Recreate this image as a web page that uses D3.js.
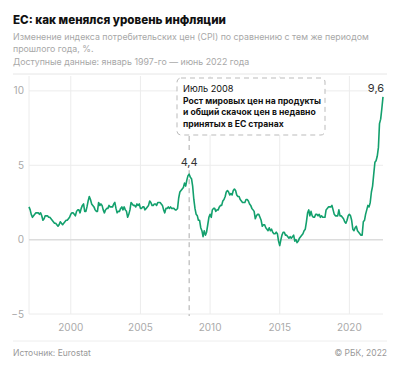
<!DOCTYPE html>
<html>
<head>
<meta charset="utf-8">
<script src="https://cdn.jsdelivr.net/npm/d3@7"></script>
<style>
  body { margin: 0; background: #fff; }
  svg text { font-family: Inter, "Noto Sans", sans-serif; }
</style>
</head>
<body>
<div id="chart"></div>
<script>
// monthly HICP, % y/y, Jan 1997 .. Jun 2022
var startYear = 1997;
var cpi = [
  2.2,2.0,1.7,1.5,1.6,1.7,1.8,1.8,1.8,1.7,1.8,1.6,   // 1997
  1.3,1.4,1.6,1.6,1.6,1.5,1.5,1.4,1.3,1.2,1.1,1.1,   // 1998
  1.0,0.9,1.0,1.2,1.1,1.0,1.1,1.2,1.3,1.3,1.4,1.5,   // 1999
  1.7,1.8,1.8,1.7,1.6,1.9,2.0,2.0,1.8,2.1,2.3,2.4,   // 2000
  1.9,1.9,2.2,2.6,2.9,2.7,2.4,2.3,2.2,2.0,1.9,1.9,   // 2001
  2.5,2.3,2.4,2.3,2.0,1.8,2.0,2.1,2.1,2.3,2.2,2.2,   // 2002
  2.2,2.4,2.5,2.1,1.8,1.9,1.9,2.1,2.2,2.0,2.2,2.0,   // 2003
  1.9,1.5,1.7,2.0,2.5,2.4,2.3,2.3,2.2,2.4,2.3,2.4,   // 2004
  2.1,2.1,2.2,2.2,2.0,2.1,2.2,2.3,2.6,2.5,2.3,2.3,   // 2005
  2.4,2.4,2.3,2.5,2.5,2.5,2.4,2.3,2.0,1.8,2.1,2.1,   // 2006
  2.2,2.1,2.2,2.1,2.1,2.1,2.0,2.0,2.1,2.8,3.2,3.3,   // 2007
  3.4,3.5,3.8,3.6,4.0,4.3,4.4,4.2,4.1,3.6,2.7,2.1,   // 2008
  1.7,1.6,1.3,1.3,0.8,0.6,0.2,0.6,0.3,0.5,1.0,1.5,   // 2009
  1.7,1.5,2.0,2.1,2.1,1.9,2.0,2.0,2.2,2.3,2.3,2.6,   // 2010
  2.7,2.9,3.2,3.3,3.2,3.0,3.1,3.0,3.3,3.4,3.3,3.0,   // 2011
  2.9,2.9,2.7,2.6,2.5,2.5,2.5,2.7,2.7,2.6,2.4,2.3,   // 2012
  2.1,2.0,1.9,1.4,1.6,1.7,1.7,1.5,1.3,0.9,1.0,1.0,   // 2013
  0.8,0.7,0.6,0.8,0.6,0.7,0.5,0.4,0.4,0.5,0.4,-0.1,  // 2014
  -0.4,0.0,0.3,0.5,0.5,0.3,0.3,0.2,0.1,0.2,0.1,0.2,  // 2015
  0.3,-0.1,0.0,-0.2,-0.1,0.1,0.2,0.3,0.4,0.6,0.7,1.2, // 2016
  1.8,2.0,1.6,1.9,1.6,1.5,1.5,1.7,1.7,1.6,1.7,1.5,   // 2017
  1.6,1.5,1.5,1.5,2.0,2.1,2.2,2.2,2.2,2.3,2.0,1.7,   // 2018
  1.6,1.6,1.6,2.0,1.6,1.6,1.5,1.4,1.2,1.1,1.3,1.6,   // 2019
  1.7,1.6,1.3,0.7,0.6,0.8,0.9,0.6,0.5,0.4,0.3,0.3,   // 2020
  1.2,1.3,1.7,2.0,2.3,2.2,2.5,3.2,3.6,4.4,5.2,5.3,   // 2021
  5.6,6.2,7.8,8.1,8.8,9.6                            // 2022
];
var yTicks = [-5, 0, 5, 10];
var xTickYears = [2000, 2005, 2010, 2015, 2020];

var title = "ЕС: как менялся уровень инфляции";
var subtitle = [
  "Изменение индекса потребительских цен (CPI) по сравнению с тем же периодом",
  "прошлого года, %.",
  "Доступные данные: январь 1997-го — июнь 2022 года"
];
var note = ["Июль 2008", "Рост мировых цен на продукты", "и общий скачок цен в недавно", "принятых в ЕС странах"];
var noteDate = new Date(2008, 6, 1);

var data = cpi.map(function(v, i) {
  return { date: new Date(startYear, i, 1), value: v };
});

var W = 400, H = 370;
var svg = d3.select("#chart").append("svg")
  .attr("width", W).attr("height", H);

var x = d3.scaleTime()
  .domain([data[0].date, data[data.length - 1].date])
  .range([29, 383]);
var y = d3.scaleLinear().domain([-5, 11]).range([314, 76]);

// header
svg.append("text").attr("x", 13).attr("y", 24)
  .attr("font-size", 11.6).attr("font-weight", 800).attr("fill", "#111")
  .text(title);
svg.selectAll(".sub").data(subtitle).enter().append("text")
  .attr("x", 13).attr("y", function(d, i) { return [40, 52, 65][i]; })
  .attr("font-size", 8.8).attr("fill", "#a8a8a8")
  .text(function(d) { return d; });
svg.append("line").attr("x1", 13).attr("x2", 387).attr("y1", 74).attr("y2", 74)
  .attr("stroke", "#e6e6e6");

// grid
var g = svg.append("g");
g.selectAll(".vg").data(xTickYears).enter().append("line")
  .attr("x1", function(d) { return x(new Date(d, 0, 1)); })
  .attr("x2", function(d) { return x(new Date(d, 0, 1)); })
  .attr("y1", 76).attr("y2", 314)
  .attr("stroke", "#ececec");
g.append("line").attr("x1", 29).attr("x2", 29).attr("y1", 76).attr("y2", 314)
  .attr("stroke", "#ececec");
g.selectAll(".hg").data(yTicks).enter().append("line")
  .attr("x1", 29).attr("x2", 383)
  .attr("y1", function(d) { return y(d); }).attr("y2", function(d) { return y(d); })
  .attr("stroke", function(d) { return d === 0 ? "#dcdcdc" : "#ececec"; })
  .attr("stroke-width", function(d) { return d === 0 ? 1.5 : 1; });

g.selectAll(".yl").data(yTicks).enter().append("text")
  .attr("x", 24).attr("y", function(d) { return y(d) + 3.5; })
  .attr("text-anchor", "end").attr("font-size", 10).attr("fill", "#aaa")
  .text(function(d) { return d < 0 ? "\u2212" + Math.abs(d) : d; });
g.selectAll(".xl").data(xTickYears).enter().append("text")
  .attr("x", function(d) { return x(new Date(d, 0, 1)); }).attr("y", 331)
  .attr("text-anchor", "middle").attr("font-size", 10).attr("fill", "#aaa")
  .text(function(d) { return d; });

// annotation
var nx = x(noteDate);
var peak = data.filter(function(d) { return +d.date === +noteDate; })[0];
svg.append("line").attr("x1", nx).attr("x2", nx).attr("y1", 136).attr("y2", 152)
  .attr("stroke", "#aaa").attr("stroke-dasharray", "5,4");
svg.append("line").attr("x1", nx).attr("x2", nx).attr("y1", y(peak.value) - 4).attr("y2", 316)
  .attr("stroke", "#aaa").attr("stroke-dasharray", "5,4");
svg.append("text").attr("x", nx).attr("y", 166)
  .attr("text-anchor", "middle").attr("font-size", 11).attr("fill", "#333")
  .text(d3.format(".1f")(peak.value).replace(".", ","));

svg.append("rect").attr("x", 177).attr("y", 78).attr("width", 148).attr("height", 57)
  .attr("rx", 4).attr("fill", "#fff").attr("stroke", "#bbb")
  .attr("stroke-dasharray", "5,4");
svg.selectAll(".note").data(note).enter().append("text")
  .attr("x", 183).attr("y", function(d, i) { return 92 + i * 11.5; })
  .attr("font-size", function(d, i) { return i === 0 ? 9.2 : 8.6; }).attr("fill", "#111")
  .attr("font-weight", function(d, i) { return i === 0 ? 400 : 700; })
  .text(function(d) { return d; });

// line
var line = d3.line()
  .x(function(d) { return x(d.date); })
  .y(function(d) { return y(d.value); });
svg.append("path").datum(data)
  .attr("d", line).attr("fill", "none")
  .attr("stroke", "#13a06d").attr("stroke-width", 1.6)
  .attr("stroke-linejoin", "round");

var last = data[data.length - 1];
svg.append("text").attr("x", x(last.date) - 7).attr("y", 92)
  .attr("text-anchor", "middle").attr("font-size", 11).attr("fill", "#333")
  .text(d3.format(".1f")(last.value).replace(".", ","));

// footer
svg.append("line").attr("x1", 13).attr("x2", 387).attr("y1", 341).attr("y2", 341)
  .attr("stroke", "#eee");
svg.append("text").attr("x", 13).attr("y", 356)
  .attr("font-size", 8.5).attr("fill", "#999").text("Источник: Eurostat");
svg.append("text").attr("x", 387).attr("y", 356).attr("text-anchor", "end")
  .attr("font-size", 8.5).attr("fill", "#999").text("© РБК, 2022");
</script>
</body>
</html>
